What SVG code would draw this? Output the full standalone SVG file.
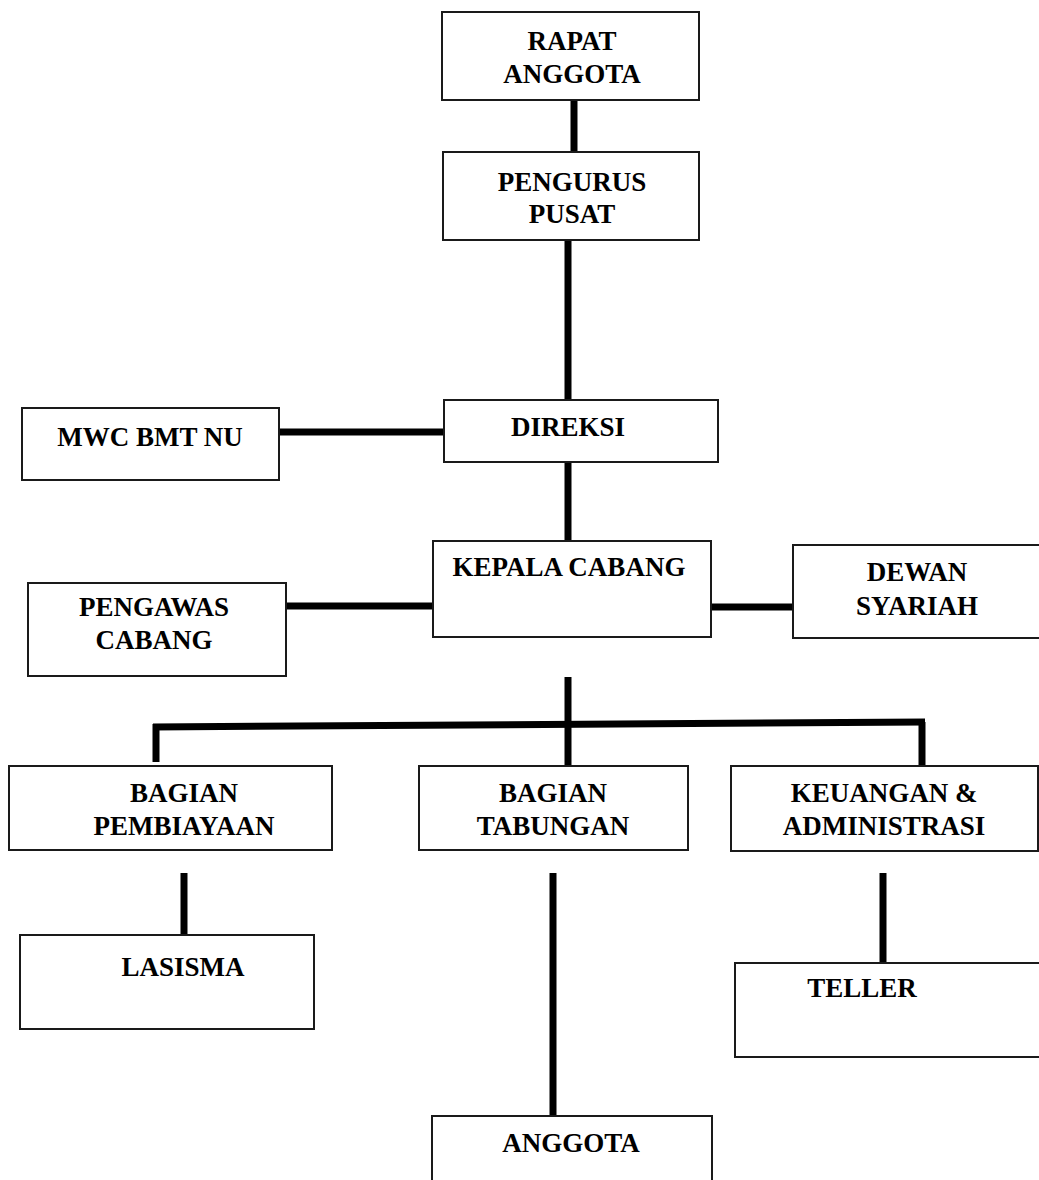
<svg xmlns="http://www.w3.org/2000/svg" width="1039" height="1180" viewBox="0 0 1039 1180">
<style>
.box{fill:#fff;stroke:#1a1a1a;stroke-width:2}
.t{font-family:"Liberation Serif","Times New Roman",serif;font-weight:bold;font-size:27px;fill:#000;text-anchor:middle}
.c{stroke:#000;stroke-width:7;fill:none}
</style>
<rect width="1039" height="1180" fill="#fff"/>
<g id="connectors">
<line class="c" x1="574" y1="100" x2="574" y2="152"/>
<line class="c" x1="568" y1="240" x2="568" y2="400"/>
<line class="c" x1="279" y1="432" x2="444" y2="432"/>
<line class="c" x1="568" y1="462" x2="568" y2="541"/>
<line class="c" x1="286" y1="606" x2="433" y2="606"/>
<line class="c" x1="703" y1="607" x2="793" y2="607"/>
<line class="c" x1="568" y1="677" x2="568" y2="770"/>
<line class="c" x1="153" y1="727" x2="925" y2="722"/>
<line class="c" x1="156" y1="724" x2="156" y2="762"/>
<line class="c" x1="922" y1="722" x2="922" y2="766"/>
<line class="c" x1="184" y1="873" x2="184" y2="935"/>
<line class="c" x1="553" y1="873" x2="553" y2="1126"/>
<line class="c" x1="883" y1="873" x2="883" y2="970"/>
</g>
<g id="rapat-anggota">
<rect class="box" x="442" y="12" width="257" height="88"/>
<text class="t" x="572" y="50">RAPAT</text>
<text class="t" x="572" y="83">ANGGOTA</text>
</g>
<g id="pengurus-pusat">
<rect class="box" x="443" y="152" width="256" height="88"/>
<text class="t" x="572" y="191">PENGURUS</text>
<text class="t" x="572" y="223">PUSAT</text>
</g>
<g id="direksi">
<rect class="box" x="444" y="400" width="274" height="62"/>
<text class="t" x="568" y="436">DIREKSI</text>
</g>
<g id="mwc-bmt-nu">
<rect class="box" x="22" y="408" width="257" height="72"/>
<text class="t" x="150" y="446">MWC BMT NU</text>
</g>
<g id="kepala-cabang">
<rect class="box" x="433" y="541" width="278" height="96"/>
<text class="t" x="569" y="576">KEPALA CABANG</text>
</g>
<g id="pengawas-cabang">
<rect class="box" x="28" y="583" width="258" height="93"/>
<text class="t" x="154" y="616">PENGAWAS</text>
<text class="t" x="154" y="649">CABANG</text>
</g>
<g id="dewan-syariah">
<rect class="box" x="793" y="545" width="250" height="93"/>
<text class="t" x="917" y="581">DEWAN</text>
<text class="t" x="917" y="615">SYARIAH</text>
</g>
<g id="bagian-pembiayaan">
<rect class="box" x="9" y="766" width="323" height="84"/>
<text class="t" x="184" y="802">BAGIAN</text>
<text class="t" x="184" y="835">PEMBIAYAAN</text>
</g>
<g id="bagian-tabungan">
<rect class="box" x="419" y="766" width="269" height="84"/>
<text class="t" x="553" y="802">BAGIAN</text>
<text class="t" x="553" y="835">TABUNGAN</text>
</g>
<g id="keuangan-administrasi">
<rect class="box" x="731" y="766" width="307" height="85"/>
<text class="t" x="884" y="802">KEUANGAN &amp;</text>
<text class="t" x="884" y="835">ADMINISTRASI</text>
</g>
<g id="lasisma">
<rect class="box" x="20" y="935" width="294" height="94"/>
<text class="t" x="183" y="976">LASISMA</text>
</g>
<g id="teller">
<rect class="box" x="735" y="963" width="310" height="94"/>
<text class="t" x="862" y="997">TELLER</text>
</g>
<g id="anggota">
<rect class="box" x="432" y="1116" width="280" height="80"/>
<text class="t" x="571" y="1152">ANGGOTA</text>
</g>
</svg>
